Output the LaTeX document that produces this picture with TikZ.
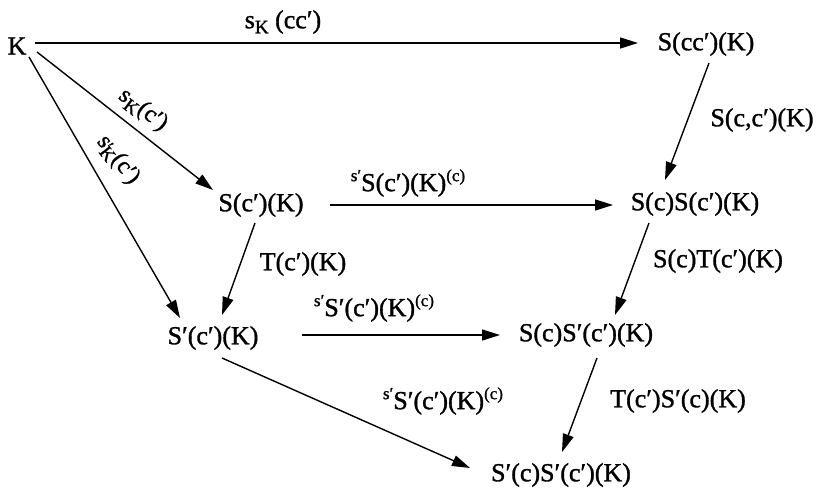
\documentclass[tikz,border=0pt]{standalone}
\usepackage{fontspec}
\setmainfont{Liberation Serif}[FakeBold=1.2]
\usetikzlibrary{arrows.meta}
\tikzset{
  obj/.style={inner sep=0pt, font=\fontsize{26}{30}\selectfont},
  lab/.style={inner sep=0pt, font=\fontsize{26}{30}\selectfont},
  arr/.style={line width=1.4pt, -{Triangle[length=18pt,width=11pt]}}
}
\newcommand{\pr}{′}
\newcommand{\sps}[1]{\raisebox{10pt}{\fontsize{17}{17}\selectfont #1}}
\newcommand{\sbs}[1]{\raisebox{-5pt}{\fontsize{19}{19}\selectfont #1}}
\begin{document}
\begin{tikzpicture}[x=1pt,y=-1pt]
\useasboundingbox (0,0) rectangle (828,491);
% objects
\node[obj] (K) at (17,46) {K};
\node[obj] (Scc) at (706,44) {S(cc\pr)(K)};
\node[obj] (Sc) at (261,205) {S(c\pr)(K)};
\node[obj] (SSc) at (695,204) {S(c)S(c\pr)(K)};
\node[obj] (Spc) at (213,338) {S\pr(c\pr)(K)};
\node[obj] (SSpc) at (586,335) {S(c)S\pr(c\pr)(K)};
\node[obj] (SpSp) at (561,475) {S\pr(c)S\pr(c\pr)(K)};
% arrows
\draw[arr] ([xshift=18pt,yshift=3pt]K.center) -- ([xshift=-68pt,yshift=1pt]Scc.center);
\draw[arr] ([xshift=20pt,yshift=-6pt]K.center) -- ([xshift=-48pt,yshift=15pt]Sc.center);
\draw[arr] ([xshift=12pt,yshift=-11pt]K.center) -- ([xshift=-33pt,yshift=20pt]Spc.center);
\draw[arr] ([xshift=-6pt,yshift=-18pt]Sc.center) -- ([xshift=9pt,yshift=23pt]Spc.center);
\draw[arr] ([xshift=69pt,yshift=0pt]Sc.center) -- ([xshift=-82pt,yshift=-1pt]SSc.center);
\draw[arr] ([xshift=3pt,yshift=-19pt]Scc.center) -- ([xshift=-30pt,yshift=24pt]SSc.center);
\draw[arr] ([xshift=-46pt,yshift=-19pt]SSc.center) -- ([xshift=29pt,yshift=20pt]SSpc.center);
\draw[arr] ([xshift=89pt,yshift=3pt]Spc.center) -- ([xshift=-86pt,yshift=0pt]SSpc.center);
\draw[arr] ([xshift=9pt,yshift=-20pt]Spc.center) -- ([xshift=-91pt,yshift=7pt]SpSp.center);
\draw[arr] ([xshift=11pt,yshift=-23pt]SSpc.center) -- ([xshift=1pt,yshift=23pt]SpSp.center);
% labels
\node[lab] (l1) at (283,22) {s\sbs{K} (cc\pr)};
\node[lab, rotate=-37, font=\fontsize{24}{28}\selectfont] (l2) at (143,110) {s\sbs{K}(c\pr)};
\node[lab, rotate=-52, font=\fontsize{24}{28}\selectfont] (l3) at (118,160) {s\rlap{\raisebox{1pt}{\fontsize{17}{17}\selectfont\pr}}\sbs{K}(c\pr)};
\node[lab] (l4) at (408,183) {\sps{s\pr}S(c\pr)(K)\sps{(c)}};
\node[lab] (l5) at (303,264) {T(c\pr)(K)};
\node[lab] (l6) at (374,308) {\sps{s\pr}S\pr(c\pr)(K)\sps{(c)}};
\node[lab] (l7) at (443,401) {\sps{s\pr}S\pr(c\pr)(K)\sps{(c)}};
\node[lab] (l8) at (762,120) {S(c,c\pr)(K)};
\node[lab] (l9) at (718,261) {S(c)T(c\pr)(K)};
\node[lab] (l10) at (678,401) {T(c\pr)S\pr(c)(K)};
\end{tikzpicture}
\end{document}
